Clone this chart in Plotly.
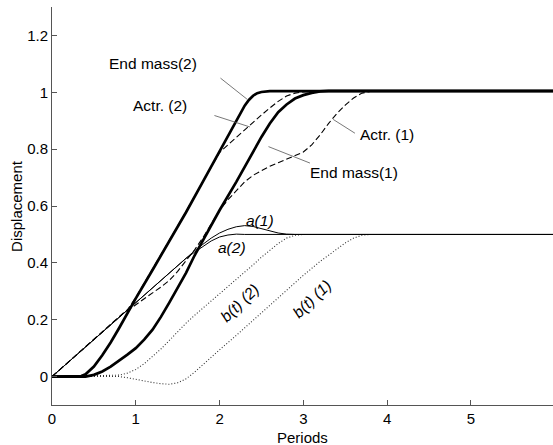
import plotly.graph_objects as go

# ---------------- data ----------------
T_EM2 = [0, 0.3, 0.35, 0.4, 0.5, 0.6, 0.7, 0.8, 0.9, 1.0, 1.2, 1.4, 1.6, 1.8, 2.0, 2.1, 2.2, 2.25, 2.3, 2.35, 2.4, 2.45, 2.5, 2.6, 6.0]
END_MASS_2 = [0, 0, 0.002, 0.008, 0.035, 0.075, 0.12, 0.17, 0.225, 0.275, 0.375, 0.475, 0.578, 0.685, 0.794, 0.847, 0.9, 0.928, 0.953, 0.973, 0.988, 0.997, 1.001, 1.004, 1.004]

T_EM1 = [0, 0.4, 0.5, 0.6, 0.7, 0.8, 0.9, 1.0, 1.1, 1.2, 1.3, 1.4, 1.5, 1.6, 1.7, 1.8, 1.9, 2.0, 2.2, 2.4, 2.5, 2.6, 2.7, 2.8, 2.9, 3.0, 3.1, 3.2, 3.3, 6.0]
END_MASS_1 = [0, 0, 0.006, 0.018, 0.035, 0.055, 0.077, 0.1, 0.13, 0.165, 0.21, 0.26, 0.31, 0.365, 0.425, 0.48, 0.532, 0.585, 0.685, 0.79, 0.843, 0.89, 0.93, 0.957, 0.978, 0.99, 0.998, 1.003, 1.005, 1.005]

T_A1 = [0, 1.5, 1.6, 1.7, 1.8, 1.9, 2.0, 2.1, 2.2, 2.3, 2.4, 2.5, 2.6, 2.7, 2.8, 2.9, 6.0]
A_1 = [0, 0.393, 0.418, 0.442, 0.465, 0.487, 0.505, 0.518, 0.527, 0.531, 0.528, 0.52, 0.511, 0.505, 0.501, 0.5, 0.5]

T_A2 = [0, 1.5, 1.6, 1.7, 1.8, 1.9, 2.0, 2.1, 2.2, 2.3, 6.0]
A_2 = [0, 0.393, 0.416, 0.437, 0.458, 0.477, 0.491, 0.498, 0.501, 0.5, 0.5]

T_B2 = [0, 0.8, 0.9, 1.0, 1.1, 1.2, 1.3, 1.4, 1.5, 1.6, 1.7, 1.8, 1.9, 2.0, 2.2, 2.4, 2.5, 2.6, 2.7, 2.8, 2.9, 3.0, 6.0]
B_2 = [0, 0.005, 0.012, 0.025, 0.045, 0.07, 0.097, 0.127, 0.158, 0.188, 0.215, 0.24, 0.265, 0.29, 0.34, 0.393, 0.42, 0.445, 0.468, 0.487, 0.497, 0.5, 0.5]

T_B1 = [0, 0.8, 0.9, 1.0, 1.1, 1.2, 1.3, 1.4, 1.5, 1.6, 1.7, 1.8, 1.9, 2.0, 2.2, 2.4, 2.6, 2.8, 3.0, 3.2, 3.4, 3.5, 3.6, 3.7, 3.8, 6.0]
B_1 = [0, 0, -0.004, -0.01, -0.016, -0.021, -0.025, -0.027, -0.022, -0.008, 0.015, 0.042, 0.068, 0.094, 0.145, 0.198, 0.25, 0.303, 0.356, 0.405, 0.45, 0.47, 0.487, 0.497, 0.5, 0.5]

T_AC2 = [0, 0.87, 0.9, 1.0, 1.2, 1.4, 1.6, 1.8, 2.0, 2.1, 2.2, 2.3, 2.4, 2.5, 2.6, 2.7, 2.8, 2.9, 3.0, 3.1, 6.0]
ACTR_2 = [0, 0.228, 0.235, 0.278, 0.377, 0.477, 0.58, 0.685, 0.788, 0.815, 0.842, 0.868, 0.893, 0.92, 0.945, 0.968, 0.987, 0.997, 1.001, 1.003, 1.003]

T_AC1 = [0, 0.87, 0.9, 1.0, 1.1, 1.2, 1.3, 1.4, 1.5, 1.6, 1.7, 1.8, 1.9, 2.0, 2.1, 2.2, 2.3, 2.4, 2.5, 2.6, 2.7, 2.8, 2.9, 3.0, 3.1, 3.2, 3.3, 3.4, 3.5, 3.6, 3.7, 3.8, 6.0]
ACTR_1 = [0, 0.228, 0.232, 0.252, 0.272, 0.293, 0.315, 0.338, 0.37, 0.408, 0.445, 0.488, 0.535, 0.585, 0.622, 0.655, 0.685, 0.708, 0.725, 0.74, 0.752, 0.765, 0.776, 0.79, 0.815, 0.85, 0.89, 0.925, 0.955, 0.98, 0.997, 1.003, 1.003]

X_TICKS = [0, 1, 2, 3, 4, 5]
X_TICK_TEXT = ["0", "1", "2", "3", "4", "5"]
Y_TICKS = [0, 0.2, 0.4, 0.6, 0.8, 1.0, 1.2]
Y_TICK_TEXT = ["0", "0.2", "0.4", "0.6", "0.8", "1", "1.2"]

FONT = "Liberation Sans, Arial, sans-serif"

fig = go.Figure()

def add(t, v, width, dash, color="black"):
    fig.add_trace(go.Scatter(x=t, y=v, mode="lines", showlegend=False, hoverinfo="skip",
                             line=dict(color=color, width=width, dash=dash)))

add(T_B2, B_2, 1.1, "1px,2px", "#333333")
add(T_B1, B_1, 1.1, "1px,2px", "#333333")
add(T_A2, A_2, 1.0, "solid")
add(T_A1, A_1, 1.0, "solid")
add(T_EM2, END_MASS_2, 2.7, "solid")
add(T_EM1, END_MASS_1, 2.7, "solid")
add(T_AC2, ACTR_2, 1.1, "6px,3px")
add(T_AC1, ACTR_1, 1.1, "6px,3px")

LEAD = "#555555"
def label(text, x, y, angle=0, size=15.5):
    fig.add_annotation(x=x, y=y, text=text, showarrow=False, textangle=angle,
                       font=dict(family=FONT, size=size, color="black"),
                       xanchor="center", yanchor="middle")

def leader(x0, y0, x1, y1):
    fig.add_annotation(x=x1, y=y1, ax=x0, ay=y0, axref="x", ayref="y", text="",
                       showarrow=True, arrowhead=0, arrowwidth=0.8, arrowcolor=LEAD,
                       standoff=0, startstandoff=0)

label("End mass(2)", 1.2, 1.103)
leader(1.993, 1.054, 2.327, 0.976)
label("Actr. (2)", 1.295, 0.955)
leader(1.921, 0.92, 2.363, 0.878)
label("End mass(1)", 3.6, 0.717)
leader(2.566, 0.811, 3.079, 0.751)
label("Actr. (1)", 4.003, 0.85)
leader(3.338, 0.908, 3.616, 0.856)
label("<i>a(1)</i>", 2.48, 0.55)
label("<i>a(2)</i>", 2.148, 0.454)
label("<i>b(t) (2)</i>", 2.243, 0.262, angle=-44)
label("<i>b(t) (1)</i>", 3.109, 0.273, angle=-44)

# axis titles
fig.add_annotation(text="Displacement", xref="paper", yref="paper", x=-0.072, y=0.5,
                   showarrow=False, textangle=-90, font=dict(family=FONT, size=15, color="black"),
                   xanchor="center", yanchor="middle")
fig.add_annotation(text="Periods", xref="paper", yref="paper", x=0.5, y=-0.081,
                   showarrow=False, font=dict(family=FONT, size=15, color="black"),
                   xanchor="center", yanchor="middle")

axis_common = dict(showgrid=False, zeroline=False, showline=True, linecolor="#555555",
                   linewidth=1, ticks="inside", ticklen=5, tickcolor="#555555",
                   tickfont=dict(family=FONT, size=15, color="black"), mirror=False)

fig.update_layout(
    width=553, height=445,
    margin=dict(l=52, r=0, t=7, b=40),
    paper_bgcolor="white", plot_bgcolor="white",
    xaxis=dict(range=[0, 5.98], tickvals=X_TICKS, ticktext=X_TICK_TEXT, **axis_common),
    yaxis=dict(range=[-0.1, 1.3], tickvals=Y_TICKS, ticktext=Y_TICK_TEXT, **axis_common),
    font=dict(family=FONT, size=15, color="black"),
)

fig.write_html("out.html")
